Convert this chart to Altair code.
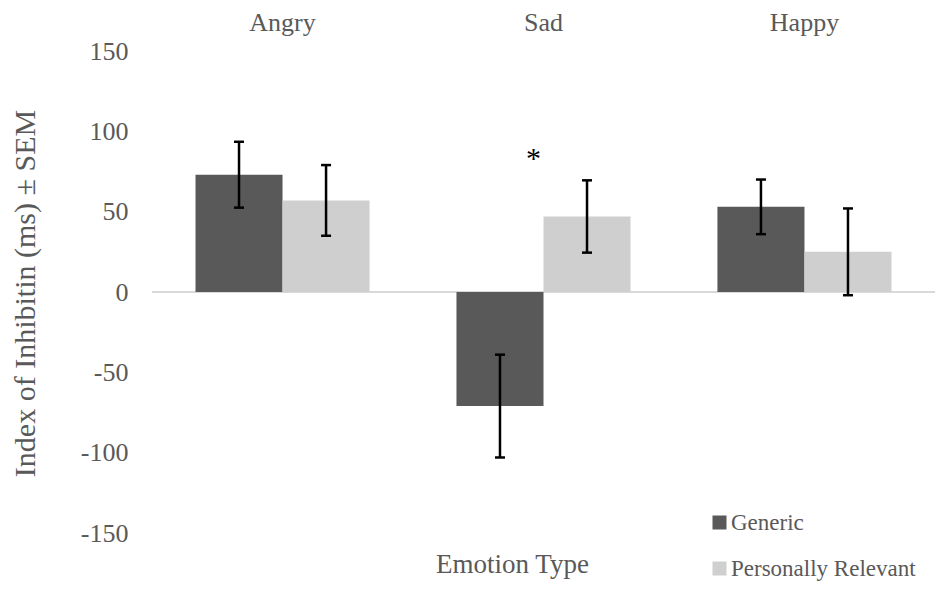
import altair as alt
import pandas as pd

emotions = ["Angry", "Sad", "Happy"]
groups = ["Generic", "Personally Relevant"]
generic_mean = [73, -71, 53]
generic_sem = [20.5, 32, 17]
relevant_mean = [57, 47, 25]
relevant_sem = [22, 22.5, 27]
star_emotion = ["Sad"]
star_value = [88]
y_ticks = [-150, -100, -50, 0, 50, 100, 150]

rows = []
for i, e in enumerate(emotions):
    rows.append(dict(emotion=e, group=groups[0], mean=generic_mean[i], sem=generic_sem[i]))
    rows.append(dict(emotion=e, group=groups[1], mean=relevant_mean[i], sem=relevant_sem[i]))
df = pd.DataFrame(rows)
df["lo"] = df["mean"] - df["sem"]
df["hi"] = df["mean"] + df["sem"]
star_df = pd.DataFrame({"emotion": star_emotion, "value": star_value})

FONT = "Liberation Serif"
GREY = "#595959"

x_enc = alt.X(
    "emotion:N", sort=emotions,
    scale=alt.Scale(paddingInner=0.333, paddingOuter=0.1667),
    axis=alt.Axis(orient="top", title=None, labelAngle=0, ticks=False, domain=False,
                  labelFont=FONT, labelFontSize=26, labelColor=GREY, labelPadding=16),
)
xo_enc = alt.XOffset("group:N", sort=groups, scale=alt.Scale(paddingInner=0, paddingOuter=0))

y_axis = alt.Axis(values=y_ticks, grid=False, domain=False, ticks=False, labelPadding=24,
                  labelFont=FONT, labelFontSize=26, labelColor=GREY,
                  labelExpr="'' + datum.value",
                  title="Index of Inhibitin (ms) ± SEM", titleFont=FONT, titleFontSize=30,
                  titleFontWeight="normal", titleColor=GREY, titleX=-127, titleY=242,
                  titleAngle=270, titleBaseline="middle")
y_scale = alt.Scale(domain=[-150, 150], nice=False, zero=False)

base = alt.Chart(df)

zero = base.mark_rule(color="#d9d9d9", strokeWidth=1.5).encode(
    y=alt.datum(0, scale=y_scale, axis=y_axis)
)

bars = base.mark_bar().encode(
    x=x_enc, xOffset=xo_enc,
    y=alt.Y("mean:Q", scale=y_scale, axis=y_axis),
    color=alt.Color("group:N", scale=alt.Scale(domain=groups, range=["#595959", "#cfcfcf"]),
                    legend=alt.Legend(title=None, orient="none", legendX=556, legendY=460,
                                      symbolType="square", symbolSize=196, symbolStrokeWidth=0,
                                      symbolOpacity=1, labelLimit=0,
                                      labelFont=FONT, labelFontSize=23, labelColor=GREY,
                                      rowPadding=22, labelOffset=0)),
)

err = base.mark_rule(color="black", strokeWidth=2.5).encode(
    x=x_enc, xOffset=xo_enc,
    y=alt.Y("lo:Q", scale=y_scale, axis=y_axis), y2="hi:Q",
)
cap_hi = base.mark_tick(color="black", thickness=2.5, size=10, opacity=1).encode(
    x=x_enc, xOffset=xo_enc, y=alt.Y("hi:Q", scale=y_scale, axis=y_axis),
)
cap_lo = base.mark_tick(color="black", thickness=2.5, size=10, opacity=1).encode(
    x=x_enc, xOffset=xo_enc, y=alt.Y("lo:Q", scale=y_scale, axis=y_axis),
)

star = alt.Chart(star_df).mark_text(text="*", font=FONT, fontSize=30, color="black",
                                    dx=-10, dy=8).encode(
    x=x_enc, y=alt.Y("value:Q", scale=y_scale, axis=y_axis),
)

chart = alt.layer(zero, bars, err, cap_hi, cap_lo, star).properties(
    width=783, height=482,
    autosize=alt.AutoSizeParams(type="none"),
    padding={"left": 144, "top": 43, "right": 8, "bottom": 49},
    background="white",
    title=alt.TitleParams("Emotion Type", orient="bottom", anchor="middle", frame="group",
                          dx=-31, offset=-29, fontSize=27, fontWeight="normal",
                          color=GREY, font=FONT),
).configure_view(stroke=None)

chart.save("out.html", embed_options={"renderer": "svg", "actions": False})
